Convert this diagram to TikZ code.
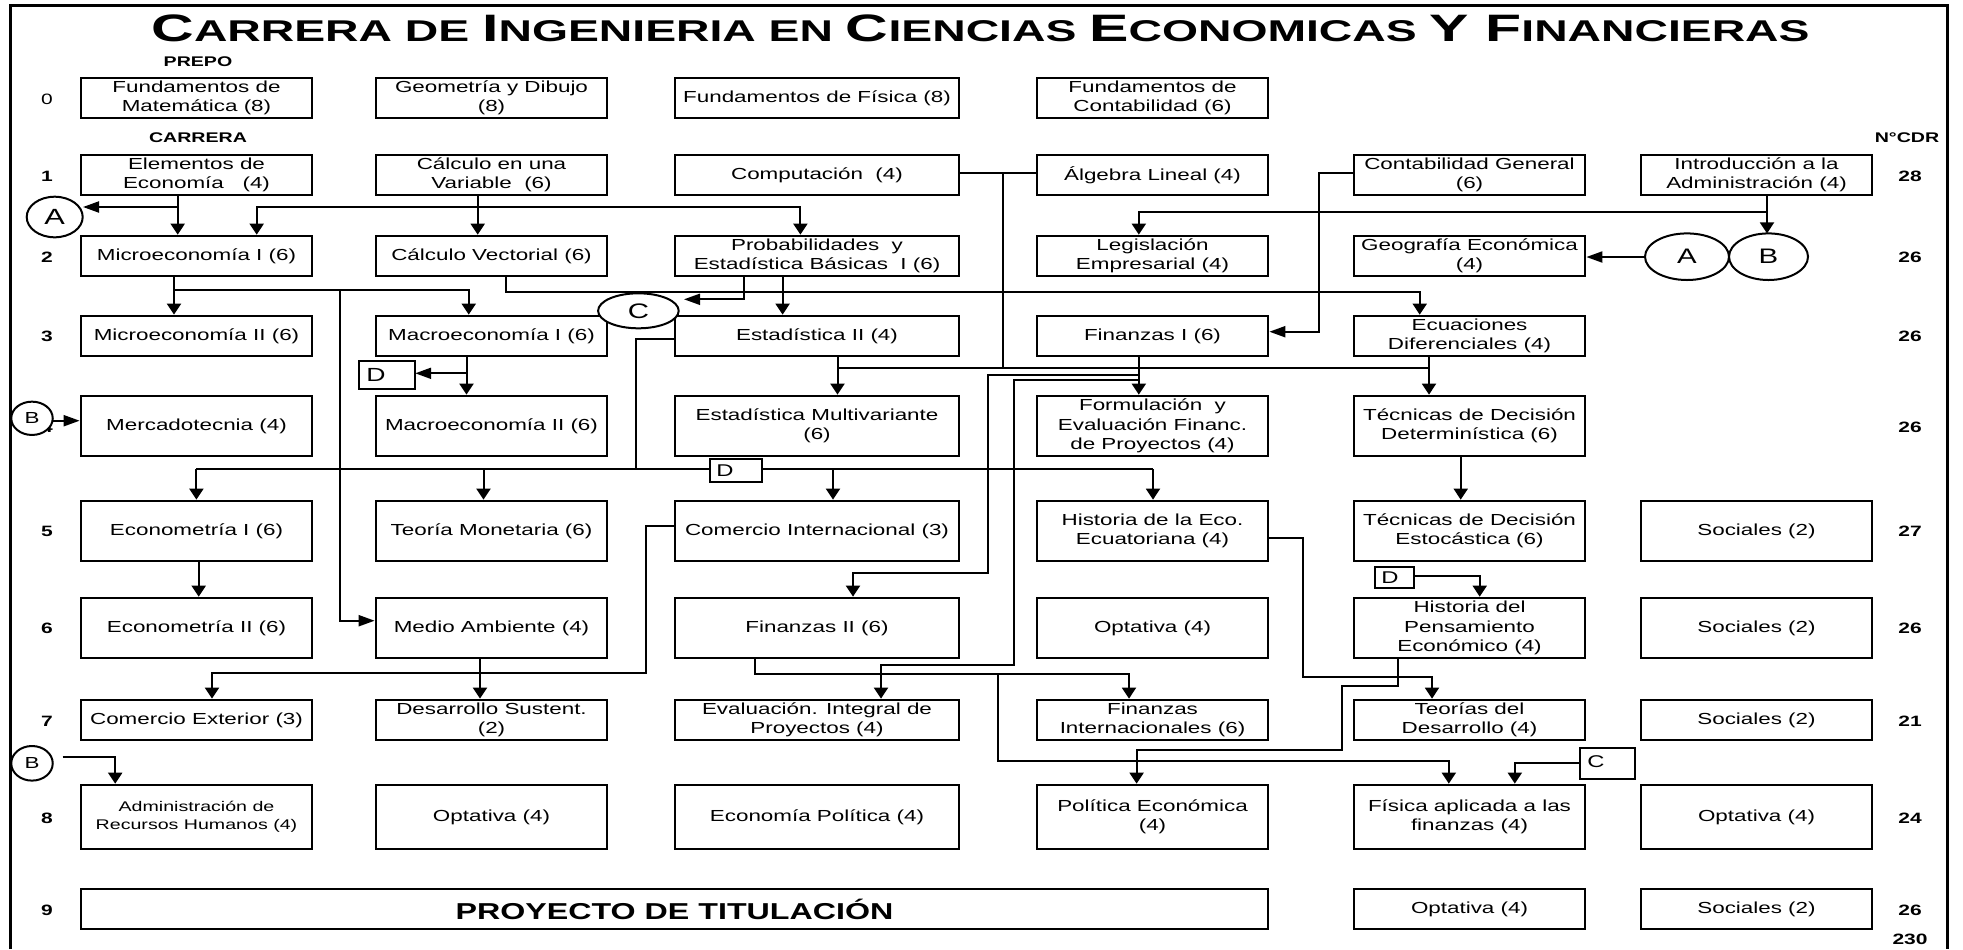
\documentclass[tikz,border=0pt]{standalone}
\usepackage{fontspec}
\setmainfont{Liberation Sans}[FakeStretch=1.4]
\usetikzlibrary{shapes.geometric,arrows.meta}
\begin{document}
\begin{tikzpicture}[x=0.5pt,y=-0.5pt,
  box/.style={draw, line width=1.35pt, inner sep=0pt, align=center, font=\fontsize{8pt}{9.65pt}\selectfont},
  wa/.style={minimum width=115.5pt}, wb/.style={minimum width=142pt},
  ha/.style={minimum height=20pt}, hb/.style={minimum height=30pt}, hc/.style={minimum height=32pt},
  conn/.style={line width=1pt},
  arrv/.style={conn, -{Triangle[length=5.5pt,width=7pt]}},
  arrh/.style={conn, -{Triangle[length=8pt,width=5.5pt]}},
  ell/.style={ellipse, draw, line width=1pt, fill=white, inner sep=0pt},
  lbox/.style={draw, line width=1pt, fill=white, inner sep=0pt},
  rowl/.style={font=\fontsize{7.5pt}{9pt}\selectfont\bfseries},
  hdr/.style={font=\fontsize{7pt}{9pt}\selectfont\bfseries}]
\useasboundingbox (0,0) rectangle (1963,949);
\draw[line width=1.5pt] (10,949) -- (10,5) -- (1947,5) -- (1947,949);
\node[anchor=base, inner sep=0pt] (title) at (980.5,41.7) {\resizebox{829pt}{13.35pt}{\bfseries\fontsize{18.6pt}{20pt}\selectfont C{\fontsize{14.6pt}{16pt}\selectfont ARRERA DE }I{\fontsize{14.6pt}{16pt}\selectfont NGENIERIA EN }C{\fontsize{14.6pt}{16pt}\selectfont IENCIAS }E{\fontsize{14.6pt}{16pt}\selectfont CONOMICAS }Y F{\fontsize{14.6pt}{16pt}\selectfont INANCIERAS}}};
\node[hdr] (prepo) at (198,62) {PREPO};
\node[hdr] (carrera) at (198,138) {CARRERA};
\node[hdr] (ncdr) at (1907,138) {N°CDR};
% row labels
\node[font=\fontsize{7.5pt}{9pt}\selectfont] (l0) at (47,99) {0};
\node[rowl] (l1) at (47,176) {1};
\node[rowl] (l2) at (47,257) {2};
\node[rowl] (l3) at (47,336) {3};
\node[rowl] (l4) at (47,427) {4};
\node[rowl] (l5) at (47,531) {5};
\node[rowl] (l6) at (47,628) {6};
\node[rowl] (l7) at (47,721) {7};
\node[rowl] (l8) at (47,818) {8};
\node[rowl] (l9) at (47,910) {9};
% credits
\node[rowl] (k1) at (1910,176) {28};
\node[rowl] (k2) at (1910,257) {26};
\node[rowl] (k3) at (1910,336) {26};
\node[rowl] (k4) at (1910,427) {26};
\node[rowl] (k5) at (1910,531) {27};
\node[rowl] (k6) at (1910,628) {26};
\node[rowl] (k7) at (1910,721) {21};
\node[rowl] (k8) at (1910,818) {24};
\node[rowl] (k9) at (1910,910) {26};
\node[rowl] (ktot) at (1910,939) {230};
% row 0
\node[box,wa,ha] (fmat) at (196.5,98) {Fundamentos de\\Matemática (8)};
\node[box,wa,ha] (geo) at (491.5,98) {Geometría y Dibujo\\(8)};
\node[box,wb,ha] (fis) at (817,98) {Fundamentos de Física (8)};
\node[box,wa,ha] (fcont) at (1152.5,98) {Fundamentos de\\Contabilidad (6)};
% row 1
\node[box,wa,ha] (elem) at (196.5,175) {Elementos de\\Economía~~~(4)};
\node[box,wa,ha] (calc) at (491.5,175) {Cálculo en una\\Variable~ (6)};
\node[box,wb,ha] (comp) at (817,175) {Computación~ (4)};
\node[box,wa,ha] (alg) at (1152.5,175) {Álgebra Lineal (4)};
\node[box,wa,ha] (contg) at (1469.5,175) {Contabilidad General\\(6)};
\node[box,wa,ha] (intro) at (1756.5,175) {Introducción a la\\Administración (4)};
% row 2
\node[box,wa,ha] (mic1) at (196.5,256) {Microeconomía I (6)};
\node[box,wa,ha] (cvec) at (491.5,256) {Cálculo Vectorial (6)};
\node[box,wb,ha] (prob) at (817,256) {Probabilidades~ y\\Estadística Básicas~ I (6)};
\node[box,wa,ha] (legis) at (1152.5,256) {Legislación\\Empresarial (4)};
\node[box,wa,ha] (geog) at (1469.5,256) {Geografía Económica\\(4)};
% row 3
\node[box,wa,ha] (mic2) at (196.5,336) {Microeconomía II (6)};
\node[box,wa,ha] (mac1) at (491.5,336) {Macroeconomía I (6)};
\node[box,wb,ha] (est2) at (817,336) {Estadística II (4)};
\node[box,wa,ha] (fin1) at (1152.5,336) {Finanzas I (6)};
\node[box,wa,ha] (ecua) at (1469.5,336) {Ecuaciones\\Diferenciales (4)};
% row 4
\node[box,wa,hb] (merc) at (196.5,426) {Mercadotecnia (4)};
\node[box,wa,hb] (mac2) at (491.5,426) {Macroeconomía II (6)};
\node[box,wb,hb] (multi) at (817,426) {Estadística Multivariante\\(6)};
\node[box,wa,hb] (formu) at (1152.5,426) {Formulación~ y\\Evaluación Financ.\\de Proyectos (4)};
\node[box,wa,hb] (tdet) at (1469.5,426) {Técnicas de Decisión\\Determinística (6)};
% row 5
\node[box,wa,hb] (eco1) at (196.5,531) {Econometría I (6)};
\node[box,wa,hb] (teom) at (491.5,531) {Teoría Monetaria (6)};
\node[box,wb,hb] (comint) at (817,531) {Comercio Internacional (3)};
\node[box,wa,hb] (hist) at (1152.5,531) {Historia de la Eco.\\Ecuatoriana (4)};
\node[box,wa,hb] (testo) at (1469.5,531) {Técnicas de Decisión\\Estocástica (6)};
\node[box,wa,hb] (soc5) at (1756.5,531) {Sociales (2)};
% row 6
\node[box,wa,hb] (eco2) at (196.5,628) {Econometría II (6)};
\node[box,wa,hb] (medio) at (491.5,628) {Medio Ambiente (4)};
\node[box,wb,hb] (fin2) at (817,628) {Finanzas II (6)};
\node[box,wa,hb] (opt6) at (1152.5,628) {Optativa (4)};
\node[box,wa,hb] (hpens) at (1469.5,628) {Historia del\\Pensamiento\\Económico (4)};
\node[box,wa,hb] (soc6) at (1756.5,628) {Sociales (2)};
% row 7
\node[box,wa,ha] (comext) at (196.5,720) {Comercio Exterior (3)};
\node[box,wa,ha] (desa) at (491.5,720) {Desarrollo Sustent.\\(2)};
\node[box,wb,ha] (evint) at (817,720) {Evaluación. Integral de\\Proyectos (4)};
\node[box,wa,ha] (finint) at (1152.5,720) {Finanzas\\Internacionales (6)};
\node[box,wa,ha] (teor) at (1469.5,720) {Teorías del\\Desarrollo (4)};
\node[box,wa,ha] (soc7) at (1756.5,720) {Sociales (2)};
% row 8
\node[box,wa,hc,font=\fontsize{7pt}{8.8pt}\selectfont] (arh) at (196.5,817) {Administración de\\Recursos Humanos (4)};
\node[box,wa,hc] (opt8) at (491.5,817) {Optativa (4)};
\node[box,wb,hc] (ecopol) at (817,817) {Economía Política (4)};
\node[box,wa,hc] (poleco) at (1152.5,817) {Política Económica\\(4)};
\node[box,wa,hc] (fisap) at (1469.5,817) {Física aplicada a las\\finanzas (4)};
\node[box,wa,hc] (opt8b) at (1756.5,817) {Optativa (4)};
% row 9
\node[box,ha,minimum width=593.5pt,font=\fontsize{11.5pt}{13pt}\selectfont\bfseries] (proy) at (674.5,909) {PROYECTO DE TITULACIÓN};
\node[box,wa,ha] (opt9) at (1469.5,909) {Optativa (4)};
\node[box,wa,ha] (soc9) at (1756.5,909) {Sociales (2)};
% connectors
\draw[arrv] (177.7,0 |- elem.south) -- (177.7,0 |- mic1.north);
\draw[arrh] (177.7,207) -- (83,207);
\draw[arrv] (477.7,0 |- calc.south) -- (477.7,0 |- cvec.north);
\draw[arrv] (477.7,207) -| (256.7,0 |- mic1.north);
\draw[arrv] (477.7,207) -| (800.4,0 |- prob.north);
\draw[arrv] (1767,0 |- intro.south) -- (1767,233.4);
\draw[arrv] (1767,212.3) -| (1138.8,0 |- legis.north);
\draw[arrh] (1645,257) -- (geog.east |- 0,257);
\draw[arrh] (contg.west |- 0,172.5) -- (1319,172.5) -- (1319,331.7) -- (fin1.east |- 0,331.7);
\draw[conn] (comp.east |- 0,173.3) -- (alg.west |- 0,173.3);
\draw[conn] (1002.7,173.3) -- (1002.7,368.3);
\draw[conn] (837.5,368.3) -- (1429,368.3);
\draw[arrv] (837.5,0 |- est2.south) -- (837.5,0 |- multi.north);
\draw[arrv] (1429,0 |- ecua.south) -- (1429,0 |- tdet.north);
\draw[arrv] (505.8,0 |- cvec.south) |- (1419.7,291.7) -- (1419.7,0 |- ecua.north);
\draw[arrh] (743.75,0 |- prob.south) |- (684,299.3);
\draw[arrv] (782.6,0 |- prob.south) -- (782.6,0 |- est2.north);
\draw[arrv] (174,0 |- mic1.south) -- (174,0 |- mic2.north);
\draw[arrv] (174,290) -| (468.75,0 |- mac1.north);
\draw[arrh] (340.2,290) |- (medio.west |- 0,620.7);
\draw[arrv] (466.5,0 |- mac1.south) -- (466.5,0 |- mac2.north);
\draw[arrh] (466.5,373.3) -- (415.2,373.3);
\draw[conn] (est2.west |- 0,339) -| (636,469);
\draw[conn] (196.4,469) -- (1153,469);
\draw[arrv] (196.4,469) -- (196.4,0 |- eco1.north);
\draw[arrv] (483.5,469) -- (483.5,0 |- teom.north);
\draw[arrv] (833,469) -- (833,0 |- comint.north);
\draw[arrv] (1153,469) -- (1153,0 |- hist.north);
\draw[arrv] (1138.8,0 |- fin1.south) -- (1138.8,0 |- formu.north);
\draw[arrv] (1138.8,375) -- (988,375) -- (988,573.3) -| (853,0 |- fin2.north);
\draw[arrv] (1138.8,380) -- (1013.8,380) -- (1013.8,665) -| (881,0 |- evint.north);
\draw[arrv] (198.7,0 |- eco1.south) -- (198.7,0 |- eco2.north);
\draw[arrv] (1460.7,0 |- tdet.south) -- (1460.7,0 |- testo.north);
\draw[arrv] (1414.2,575.7) -| (1479.7,0 |- hpens.north);
\draw[arrv] (hist.east |- 0,537.7) -- (1302.7,537.7) |- (1432,676.7) -- (1432,0 |- teor.north);
\draw[arrv] (1398,0 |- hpens.south) -- (1398,685.7) -- (1342.3,685.7) -- (1342.3,750) -| (1136.6,0 |- poleco.north);
\draw[arrv] (755,0 |- fin2.south) |- (1129,674.3) -- (1129,0 |- finint.north);
\draw[arrv] (998,674.3) |- (1448.8,760.7) -- (1448.8,0 |- fisap.north);
\draw[arrv] (1580.3,762.7) -| (1514.8,0 |- fisap.north);
\draw[arrv] (comint.west |- 0,526) -- (646,526) |- (212,673.3) -- (212,0 |- comext.north);
\draw[arrv] (480,0 |- medio.south) -- (480,0 |- desa.north);
\draw[arrh] (53,420.7) -- (merc.west |- 0,420.7);
\draw[arrv] (62.5,756.7) -| (115.2,0 |- arh.north);
% ellipses
\node[ell, minimum width=28pt, minimum height=20.3pt, font=\fontsize{11pt}{12pt}\selectfont] (Aone) at (54.7,217) {A};
\node[ell, minimum width=42pt, minimum height=23.3pt, font=\fontsize{10.5pt}{12pt}\selectfont] (Atwo) at (1687,256.7) {A};
\node[ell, minimum width=39.5pt, minimum height=23.3pt, font=\fontsize{10.5pt}{12pt}\selectfont] (Btwo) at (1768.5,256.7) {B};
\node[ell, minimum width=40.3pt, minimum height=17.5pt, font=\fontsize{10.5pt}{12pt}\selectfont] (Cell) at (638.4,310.8) {C};
\node[ell, minimum width=20.75pt, minimum height=16.65pt, font=\fontsize{8pt}{9pt}\selectfont] (Bfour) at (32,418.3) {B};
\node[ell, minimum width=20.75pt, minimum height=17.3pt, font=\fontsize{8pt}{9pt}\selectfont] (Beight) at (32,763.3) {B};
% letter boxes
\node[lbox, minimum width=27.9pt, minimum height=14.15pt] (Done) at (387.3,375.2) {};
\node[anchor=west, inner sep=0pt, font=\fontsize{9.5pt}{10pt}\selectfont] (Donet) at (366,375.2) {D};
\node[lbox, minimum width=25.65pt, minimum height=11.35pt] (Dtwo) at (736,470.3) {};
\node[anchor=west, inner sep=0pt, font=\fontsize{8.5pt}{10pt}\selectfont] (Dtwot) at (716,471) {D};
\node[lbox, minimum width=19.45pt, minimum height=10.8pt] (Dthree) at (1394.75,577.5) {};
\node[anchor=west, inner sep=0pt, font=\fontsize{8.5pt}{10pt}\selectfont] (Dthreet) at (1381,578) {D};
\node[lbox, minimum width=27.3pt, minimum height=15.5pt] (Cbox) at (1607.6,763.8) {};
\node[anchor=west, inner sep=0pt, font=\fontsize{8.5pt}{10pt}\selectfont] (Cboxt) at (1587,762) {C};
\end{tikzpicture}
\end{document}
